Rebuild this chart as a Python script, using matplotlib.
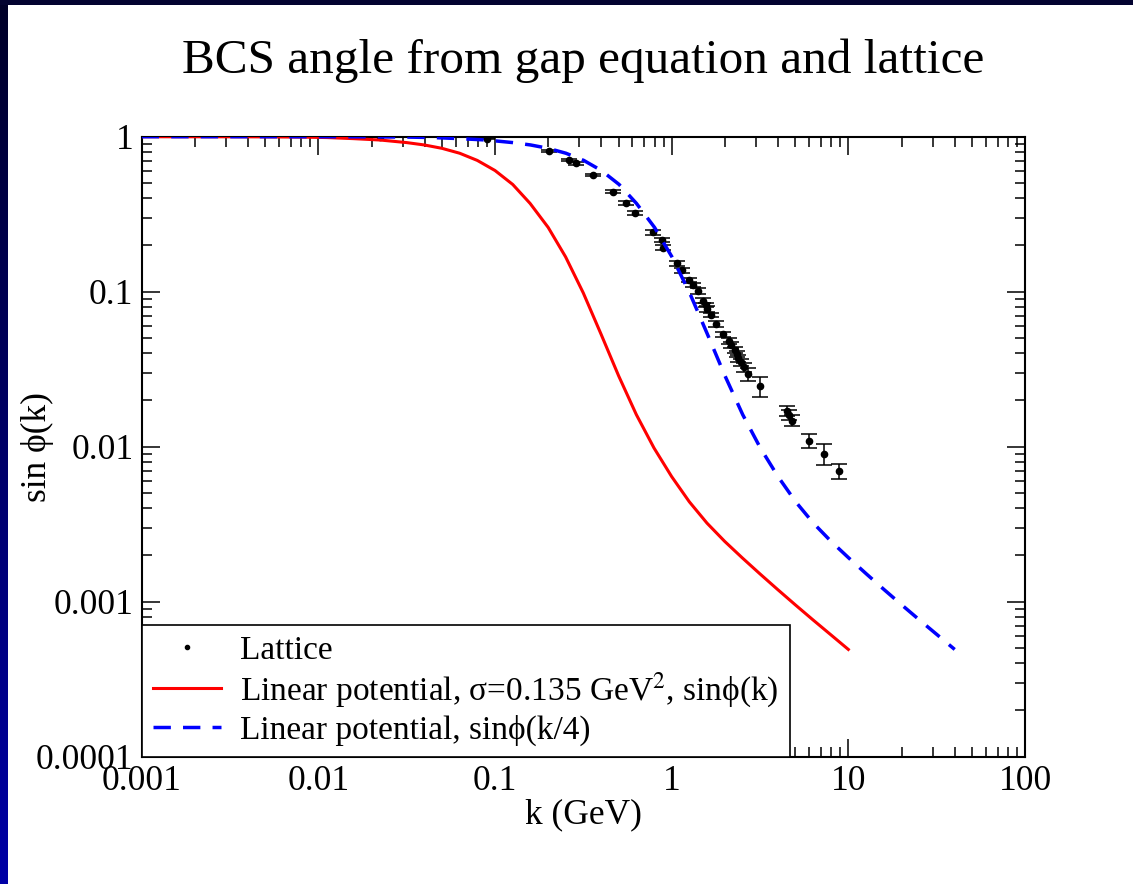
import numpy as np
import matplotlib
matplotlib.use("Agg")
import matplotlib.pyplot as plt
from matplotlib.lines import Line2D
from matplotlib.patches import Rectangle
from matplotlib.colors import LinearSegmentedColormap
from matplotlib.ticker import LogLocator, NullFormatter

plt.rcParams['font.family'] = ['Liberation Serif', 'DejaVu Serif']
plt.rcParams['mathtext.fontset'] = 'stix'

# gap equation, linear potential (sigma = 0.135 GeV^2)
k_gap = [0.001, 0.00316, 0.00501, 0.00794, 0.0112, 0.0158, 0.0224, 0.0316,
         0.0398, 0.0501, 0.0631, 0.0794, 0.1, 0.126, 0.158, 0.200, 0.251,
         0.316, 0.398, 0.501, 0.631, 0.794, 1.0, 1.259, 1.585, 1.995, 2.512,
         3.162, 3.981, 5.012, 6.310, 7.943, 10.0]
sin_gap = [1.0, 0.9993, 0.9979, 0.9943, 0.9874, 0.9716, 0.9517, 0.9162,
           0.8845, 0.8413, 0.7821, 0.7029, 0.6051, 0.4918, 0.3710, 0.2597,
           0.1676, 0.09815, 0.05331, 0.02863, 0.01610, 0.009815, 0.006411,
           0.004409, 0.003212, 0.002451, 0.001916, 0.001511, 0.001198,
           0.000954, 0.000763, 0.000613, 0.000492]

# same solution with momentum rescaled, sin phi(k/4)
k_gap4 = [0.001, 0.004, 0.0126, 0.0200, 0.0318, 0.0448, 0.0632, 0.0896,
          0.126, 0.159, 0.200, 0.252, 0.318, 0.400, 0.504, 0.632, 0.800,
          1.004, 1.264, 1.592, 2.004, 2.524, 3.176, 4.0, 5.036, 6.34, 7.98,
          10.05, 12.65, 15.92, 20.05, 25.24, 31.77, 40.0]
sin_gap4 = [1.0, 1.0, 0.9993, 0.9979, 0.9943, 0.9874, 0.9716, 0.9517,
            0.9162, 0.8845, 0.8413, 0.7821, 0.7029, 0.6051, 0.4918, 0.3710,
            0.2597, 0.1676, 0.09815, 0.05331, 0.02863, 0.01610, 0.009815,
            0.006411, 0.004409, 0.003212, 0.002451, 0.001916, 0.001511,
            0.001198, 0.000954, 0.000763, 0.000613, 0.000492]

# lattice data
k_lat = [0.0224, 0.0898, 0.202, 0.2633, 0.2873, 0.357, 0.467, 0.549,
         0.6197, 0.7866, 0.8845, 0.889, 1.067, 1.139, 1.258, 1.325,
         1.403, 1.510, 1.564, 1.591, 1.663, 1.781, 1.944, 2.118, 2.165,
         2.282, 2.333, 2.382, 2.458, 2.576, 2.714, 3.172, 4.476, 4.594,
         4.777, 6.008, 7.279, 8.849]
sin_lat = [0.995, 0.97, 0.809, 0.7075, 0.6737, 0.5662, 0.4416, 0.3752,
           0.3205, 0.2416, 0.2156, 0.1923, 0.1525, 0.138, 0.119, 0.1105,
           0.101, 0.0875, 0.0821, 0.0773, 0.0707, 0.0619, 0.0533, 0.0483,
           0.0453, 0.0421, 0.0395, 0.0372, 0.0350, 0.0325, 0.0294, 0.0246,
           0.0170, 0.0160, 0.0147, 0.0109, 0.00901, 0.00697]
err_lat = [0.005, 0.01, 0.015, 0.015, 0.015, 0.012, 0.010, 0.010,
           0.009, 0.008, 0.007, 0.007, 0.005, 0.005, 0.004, 0.004,
           0.004, 0.003, 0.003, 0.003, 0.0025, 0.0025, 0.002, 0.002,
           0.002, 0.002, 0.0018, 0.0018, 0.0018, 0.002, 0.003, 0.0036,
           0.0012, 0.0012, 0.0012, 0.0011, 0.0014, 0.0008]

x_ticks = [0.001, 0.01, 0.1, 1, 10, 100]
x_labels = ['0.001', '0.01', '0.1', '1', '10', '100']
y_ticks = [0.0001, 0.001, 0.01, 0.1, 1]
y_labels = ['0.0001', '0.001', '0.01', '0.1', '1']

W, H = 1133, 884
fig = plt.figure(figsize=(W / 100, H / 100), dpi=100)

# dark slide frame: gradient strip on the left, flat strip on top
strip = fig.add_axes([0, 0, 8 / W, 1])
frame_cmap = LinearSegmentedColormap.from_list('frame', ['#0000a6', '#000028'])
strip.imshow(np.linspace(0, 1, 256)[:, None], aspect='auto', cmap=frame_cmap,
             origin='lower', extent=[0, 1, 0, 1])
strip.axis('off')
fig.add_artist(Rectangle((0, 1 - 5 / H), 1, 5 / H, transform=fig.transFigure,
                         color='#030330', lw=0))

ax = fig.add_axes([141.7 / W, 1 - 756.7 / H, (1025 - 141.7) / W, (756.7 - 136.7) / H])
ax.set_xscale('log')
ax.set_yscale('log')

ax.plot(k_gap, sin_gap, color='#ff0000', lw=2.2, zorder=3)
ax.errorbar(k_lat, sin_lat, yerr=err_lat, fmt='o', color='black', ms=4.5,
            elinewidth=1.1, capsize=6, capthick=1.1, zorder=2)
ax.plot(k_gap4, sin_gap4, color='#0000ff', lw=2.5, linestyle=(0, (5, 3.5)), zorder=4)

ax.set_xlim(0.001, 100)
ax.set_ylim(0.0001, 1)
ax.set_xticks(x_ticks, x_labels)
ax.set_yticks(y_ticks, y_labels)
ax.xaxis.set_minor_locator(LogLocator(base=10, subs=np.arange(2, 10)))
ax.yaxis.set_minor_locator(LogLocator(base=10, subs=np.arange(2, 10)))
ax.xaxis.set_minor_formatter(NullFormatter())
ax.yaxis.set_minor_formatter(NullFormatter())
ax.tick_params(which='both', direction='in', top=True, right=True, width=1.1,
               labelsize=25.5)
ax.tick_params(which='major', length=13, pad=6)
ax.tick_params(which='minor', length=7)
for sp in ax.spines.values():
    sp.set_linewidth(1.5)

ax.set_xlabel('k (GeV)', fontsize=25.5, labelpad=0)
ax.set_ylabel('sin ϕ(k)', fontsize=25.5)
ax.yaxis.set_label_coords(-0.099, 0.5)
ax.set_title('BCS angle from gap equation and lattice', fontsize=35.5, pad=46)

handles = [
    Line2D([], [], ls='none', marker='o', color='black', ms=3),
    Line2D([], [], color='#ff0000', lw=2.2),
    Line2D([], [], color='#0000ff', lw=2.5, linestyle=(0, (5, 3.5))),
]
labels = ['Lattice',
          'Linear potential, σ=0.135 GeV$^{2}$, sinϕ(k)',
          'Linear potential, sinϕ(k/4)']
leg = ax.legend(handles, labels, loc='lower left', bbox_to_anchor=(0, 0),
                borderaxespad=0, fancybox=False, framealpha=1, edgecolor='black',
                fontsize=24, handlelength=2.05, handletextpad=0.58,
                labelspacing=0.14, borderpad=0.33)
leg.get_frame().set_linewidth(1.2)
leg.set_zorder(5)

fig.savefig('out.png', dpi=100)
